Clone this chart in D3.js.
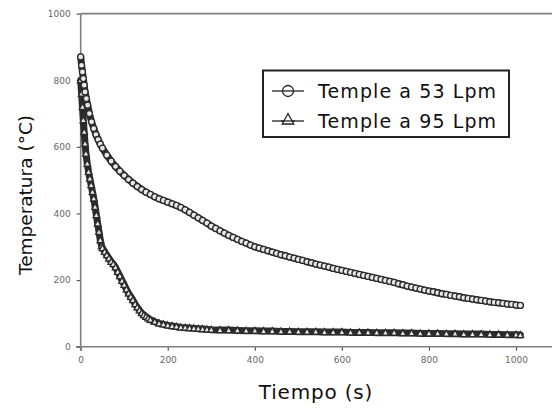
<!DOCTYPE html>
<html><head><meta charset="utf-8">
<script src="https://cdn.jsdelivr.net/npm/d3@7"></script>
<style>body{margin:0;background:#fff}svg{display:block}</style>
</head><body><svg id="c" width="552" height="409"></svg>
<script>
const seriesNames = ["Temple a 53 Lpm", "Temple a 95 Lpm"];
const xTicks = [0, 200, 400, 600, 800, 1000];
const yTicks = [0, 200, 400, 600, 800, 1000];

const time53 = [0,2,4,6,8,10,13,16,20,25,30,35,40,45,50,60,70,80,90,100,110,120,130,140,150,160,170,180,190,200,210,220,230,240,250,260,270,280,290,300,310,320,330,340,350,360,370,380,390,400,410,420,430,440,450,460,470,480,490,500,510,520,530,540,550,560,570,580,590,600,610,620,630,640,650,660,670,680,690,700,710,720,730,740,750,760,770,780,790,800,810,820,830,840,850,860,870,880,890,900,910,920,930,940,950,960,970,980,990,1000,1010];
const temp53 = [870,845,825,805,785,765,745,725,700,675,655,637,622,608,596,575,557,541,527,514,502,491,481,472,464,457,450,444,439,434,429,424,418,411,403,395,387,379,371,362,355,348,341,334,328,322,316,311,305,300,296,292,288,284,280,276,273,269,266,262,259,255,252,248,245,242,239,235,232,229,226,223,220,217,214,211,208,205,202,199,196,193,189,186,182,179,176,173,170,167,165,162,159,157,154,152,150,147,145,143,141,139,137,135,133,132,130,128,127,125,124];

const time95 = [0,2,4,6,8,10,12,15,18,21,24,27,30,33,36,39,42,45,48,50,55,60,65,70,75,80,85,90,95,100,105,110,115,120,125,130,135,140,145,150,155,160,170,180,190,200,210,220,230,240,250,260,270,280,290,300,320,340,360,380,400,420,440,460,480,500,520,540,560,580,600,620,640,660,680,700,720,740,760,780,800,820,840,860,880,900,920,940,960,980,1000,1010];
const temp95 = [800,760,720,680,645,610,580,550,525,505,485,465,445,420,395,370,345,320,302,296,285,275,265,255,248,238,225,212,198,186,172,160,150,140,128,118,109,101,95,90,85,81,75,70,67,64,62,60,58,57,56,55,54,53,52,51,50,50,49,48,48,47,47,46,46,45,45,45,44,44,44,43,43,43,42,42,42,41,41,40,40,40,39,39,38,38,38,37,37,36,36,35];

const svg = d3.select("#c");
const x = d3.scaleLinear().domain([0, 1000]).range([80.7, 516]);
const y = d3.scaleLinear().domain([0, 1000]).range([346.7, 13.6]);
const axisCol = "#808080";

svg.append("line").attr("x1", 80.7).attr("x2", 552).attr("y1", y(1000)).attr("y2", y(1000))
  .attr("stroke", axisCol).attr("stroke-width", 1.6);

const xa = svg.append("g").attr("transform", `translate(0,${y(0)})`)
  .call(d3.axisBottom(x).tickValues(xTicks).tickSize(4).tickPadding(6).tickFormat(d3.format("d")));
xa.select(".domain").remove();
svg.append("line").attr("x1", 76).attr("x2", 552).attr("y1", y(0)).attr("y2", y(0))
  .attr("stroke", axisCol).attr("stroke-width", 1.6);
const ya = svg.append("g").attr("transform", `translate(${x(0)},0)`)
  .call(d3.axisLeft(y).tickValues(yTicks).tickSize(4).tickPadding(6).tickFormat(d3.format("d")));
ya.select(".domain").remove();
svg.append("line").attr("x1", x(0)).attr("x2", x(0)).attr("y1", y(1000)).attr("y2", y(0)+4)
  .attr("stroke", axisCol).attr("stroke-width", 1.6);
svg.selectAll(".tick line").attr("stroke", "#555").attr("stroke-width", 1.2);
svg.selectAll(".tick text").attr("fill", "#666").attr("font-family", "DejaVu Sans").attr("font-size", 9);

svg.append("text").attr("x", 316).attr("y", 399).attr("text-anchor", "middle")
  .attr("font-family", "DejaVu Sans").attr("font-size", 20).attr("letter-spacing", 0.8)
  .attr("fill", "#111").text("Tiempo (s)");
svg.append("text").attr("transform", "translate(32,195) rotate(-90)").attr("text-anchor", "middle")
  .attr("font-family", "DejaVu Sans").attr("font-size", 18.5).attr("fill", "#111").text("Temperatura (°C)");

const line = d3.line().x(d => x(d[0])).y(d => y(d[1]));
const d53 = time53.map((t, i) => [t, temp53[i]]);
const d95 = time95.map((t, i) => [t, temp95[i]]);
const col = "#2b2b2b";

function tri(cx, cy, r) {
  return `M${cx},${cy - r}L${cx + r * 0.95},${cy + r * 0.75}L${cx - r * 0.95},${cy + r * 0.75}Z`;
}

[d95, d53].forEach(d => {
  svg.append("path").datum(d).attr("d", line).attr("fill", "none")
    .attr("stroke", col).attr("stroke-width", 7).attr("stroke-linejoin", "round").attr("stroke-linecap", "round");
});

svg.append("g").selectAll("path").data(d95).join("path")
  .attr("d", d => tri(x(d[0]), y(d[1]), 3.4))
  .attr("fill", "#e8e8e8").attr("stroke", col).attr("stroke-width", 1.3);

svg.append("g").selectAll("circle").data(d53).join("circle")
  .attr("cx", d => x(d[0])).attr("cy", d => y(d[1])).attr("r", 3)
  .attr("fill", "#e8e8e8").attr("stroke", col).attr("stroke-width", 1.3);

const lg = svg.append("g");
lg.append("rect").attr("x", 263).attr("y", 70.5).attr("width", 246).attr("height", 66.5)
  .attr("fill", "#fff").attr("stroke", "#222").attr("stroke-width", 2);
const rows = [91, 121];
rows.forEach((ry, i) => {
  lg.append("line").attr("x1", 272).attr("x2", 304).attr("y1", ry).attr("y2", ry)
    .attr("stroke", "#222").attr("stroke-width", 1.3);
  if (i === 0) {
    lg.append("circle").attr("cx", 288).attr("cy", ry).attr("r", 5.5)
      .attr("fill", "#fff").attr("stroke", "#222").attr("stroke-width", 1.3);
    lg.append("line").attr("x1", 282.5).attr("x2", 293.5).attr("y1", ry).attr("y2", ry)
      .attr("stroke", "#222").attr("stroke-width", 1.3);
  } else {
    lg.append("path").attr("d", tri(288, ry - 1.5, 6)).attr("fill", "#fff")
      .attr("stroke", "#222").attr("stroke-width", 1.3);
    lg.append("line").attr("x1", 281).attr("x2", 295).attr("y1", ry).attr("y2", ry)
      .attr("stroke", "#222").attr("stroke-width", 1.3);
  }
  lg.append("text").attr("x", 318).attr("y", ry + 7).attr("font-family", "DejaVu Sans")
    .attr("font-size", 19).attr("letter-spacing", 1.1).attr("fill", "#111").text(seriesNames[i]);
});
</script></body></html>
